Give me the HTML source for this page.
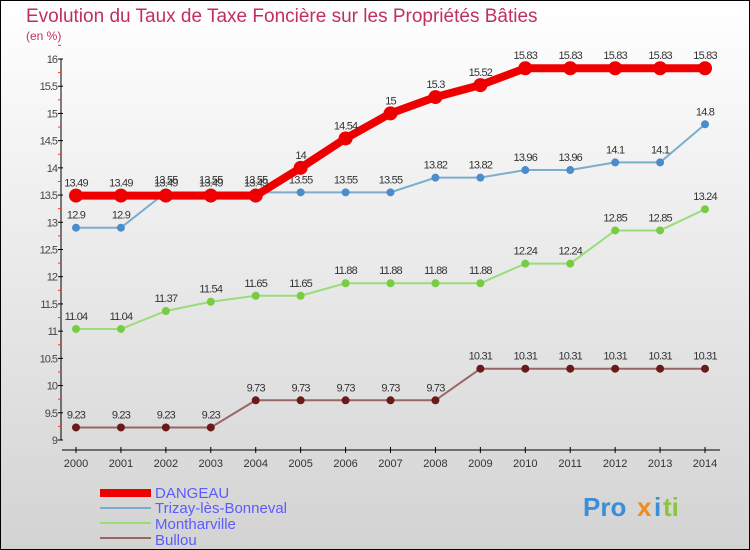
<!DOCTYPE html>
<html><head><meta charset="utf-8"><style>
html,body{margin:0;padding:0}
body{width:750px;height:550px;overflow:hidden;font-family:"Liberation Sans",sans-serif}
#c{position:absolute;left:0;top:0;width:748px;height:548px;border:1px solid #000;background:linear-gradient(#ffffff,#d3d3d3)}
svg text{font-family:"Liberation Sans",sans-serif}
</style></head><body>
<div id="c">
<svg id="s" width="750" height="550" style="position:absolute;left:-1px;top:-1px">
<text x="26" y="22" font-size="19" fill="#c0305a">Evolution du Taux de Taxe Foncière sur les Propriétés Bâties</text>
<text x="26" y="40" font-size="12" fill="#c0305a">(en %)</text>
<g id="axes"></g><g id="series"></g>
<g>
<rect x="100" y="489" width="51" height="8" fill="#e00"/>
<text x="155" y="498" font-size="15" fill="#5b5bff">DANGEAU</text>
<line x1="100" y1="508" x2="151" y2="508" stroke="#7aaecc" stroke-width="2"/>
<text x="155" y="513" font-size="15" fill="#5b5bff">Trizay-lès-Bonneval</text>
<line x1="100" y1="523" x2="151" y2="523" stroke="#99dd77" stroke-width="2"/>
<text x="155" y="529" font-size="15" fill="#5b5bff">Montharville</text>
<line x1="100" y1="538" x2="151" y2="538" stroke="#996666" stroke-width="2"/>
<text x="155" y="545" font-size="15" fill="#5b5bff">Bullou</text>
</g>
<g font-size="26" font-weight="bold">
<text x="583" y="516" fill="#3b8ed8">Pro</text><text x="637" y="516" fill="#f08c1e">x</text><text x="654" y="516" fill="#3b8ed8">i</text><text x="663" y="516" fill="#8bc53f">ti</text>
</g>
</svg></div>
<script>
const years=["2000","2001","2002","2003","2004","2005","2006","2007","2008","2009","2010","2011","2012","2013","2014"];
const yTicks=[9,9.5,10,10.5,11,11.5,12,12.5,13,13.5,14,14.5,15,15.5,16];
const dangeau=[13.49,13.49,13.49,13.49,13.49,14,14.54,15,15.3,15.52,15.83,15.83,15.83,15.83,15.83];
const trizay=[12.9,12.9,13.55,13.55,13.55,13.55,13.55,13.55,13.82,13.82,13.96,13.96,14.1,14.1,14.8];
const montharville=[11.04,11.04,11.37,11.54,11.65,11.65,11.88,11.88,11.88,11.88,12.24,12.24,12.85,12.85,13.24];
const bullou=[9.23,9.23,9.23,9.23,9.73,9.73,9.73,9.73,9.73,10.31,10.31,10.31,10.31,10.31,10.31];
const NS="http://www.w3.org/2000/svg";
const X=i=>76+i*44.93, Y=v=>440-(v-9)*54.43;
function mk(t,a,p){const e=document.createElementNS(NS,t);for(const k in a)e.setAttribute(k,a[k]);p.appendChild(e);return e;}
const ax=document.getElementById('axes'), sg=document.getElementById('series');
let l=mk('line',{x1:61,y1:Y(16),x2:61,y2:Y(9),stroke:'#000'},ax);


yTicks.forEach(v=>{
 mk('line',{x1:58,x2:63,y1:Y(v),y2:Y(v),stroke:'#000'},ax);
 mk('line',{x1:58,x2:61,y1:Y(v+0.25),y2:Y(v+0.25),stroke:'#f33'},ax);
 const t=mk('text',{x:57,y:Y(v)+4,'font-size':11,'text-anchor':'end',fill:'#444','letter-spacing':'-1'},ax);t.textContent=String(v);
 
 
});
l=mk('line',{x1:62,y1:450,x2:720,y2:450,stroke:'#000'},ax);


years.forEach((y,i)=>{
 mk('line',{x1:X(i),x2:X(i),y1:447,y2:453,stroke:'#000'},ax);
 const t=mk('text',{x:X(i),y:467,'font-size':11,'text-anchor':'middle',fill:'#333'},ax);t.textContent=y;
 
 
});
function series(vals,name,col,dot,w,r){
 const g=mk('g',{},sg);
 
 
 mk('polyline',{points:vals.map((v,i)=>X(i)+','+Y(v)).join(' '),fill:'none',stroke:col,'stroke-width':w},g);
 vals.forEach((v,i)=>{
  const c=mk('circle',{cx:X(i),cy:Y(v),r:r,fill:dot},g);
  
  
  const t=mk('text',{x:X(i),y:Y(v)-9,'font-size':11,'text-anchor':'middle',fill:'#333','letter-spacing':'-0.8'},g);t.textContent=String(v);
  
  
 });
}
series(bullou,'bullou','#996666','#6b1a1a',2,4);
series(montharville,'montharville','#99dd77','#77cc44',2,4);
series(trizay,'trizay','#7aaecc','#4a8ccc',2,4);
series(dangeau,'dangeau','#ee0000','#ee0000',8,7);
</script>
</body></html>
